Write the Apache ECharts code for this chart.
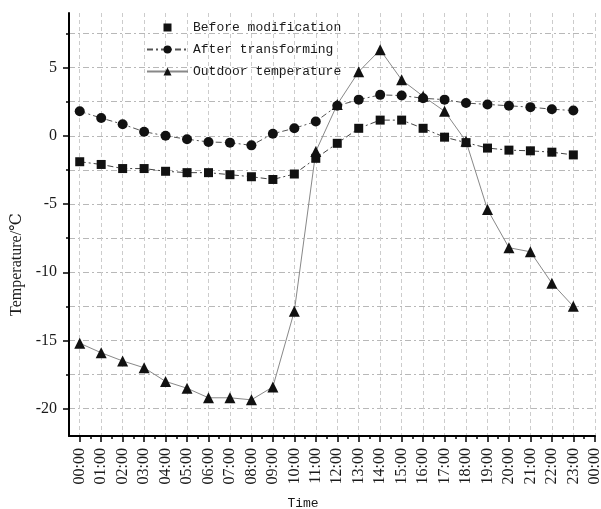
<!DOCTYPE html>
<html><head><meta charset="utf-8">
<script src="https://cdn.jsdelivr.net/npm/echarts@6/dist/echarts.min.js"></script>
<style>html,body{margin:0;padding:0;background:#fff}#c{width:601px;height:509px}</style>
</head><body><div id="c"></div>
<script>
const hours = [0,1,2,3,4,5,6,7,8,9,10,11,12,13,14,15,16,17,18,19,20,21,22,23];
const tickLabels = ["00:00","01:00","02:00","03:00","04:00","05:00","06:00","07:00","08:00","09:00","10:00","11:00","12:00","13:00","14:00","15:00","16:00","17:00","18:00","19:00","20:00","21:00","22:00","23:00","00:00"];
const beforeModification = [-1.9,-2.1,-2.4,-2.4,-2.6,-2.7,-2.7,-2.85,-3.0,-3.2,-2.8,-1.65,-0.55,0.55,1.15,1.15,0.55,-0.1,-0.5,-0.9,-1.05,-1.1,-1.2,-1.4];
const afterTransforming = [1.8,1.3,0.85,0.3,0.0,-0.25,-0.45,-0.5,-0.7,0.15,0.55,1.05,2.2,2.65,3.0,2.95,2.75,2.65,2.4,2.3,2.2,2.1,1.95,1.85];
const outdoorTemperature = [-15.2,-15.9,-16.5,-17.0,-18.0,-18.5,-19.2,-19.2,-19.35,-18.4,-12.85,-1.15,2.3,4.7,6.3,4.1,2.9,1.8,-0.4,-5.4,-8.2,-8.5,-10.8,-12.5];
const seriesNames = ["Before modification","After transforming","Outdoor temperature"];
const yMajorTicks = [-20,-15,-10,-5,0,5];
const yMinorTicks = [-17.5,-12.5,-7.5,-2.5,2.5,7.5];
const xMajorTicks = tickLabels.map((_, i) => i);
const xMinorTicks = hours.map(h => h + 0.5);

const pairs = arr => arr.map((v, i) => [hours[i], v]);
const serif = "'Liberation Serif', 'DejaVu Serif', serif";
const mono = "'Liberation Mono', 'DejaVu Sans Mono', monospace";
const dashDot = [6,3,2,3];

const chart = echarts.init(document.getElementById('c'), null, {renderer: 'canvas'});
chart.setOption({
  animation: false,
  backgroundColor: '#fff',
  grid: {left: 69, right: 6, top: 13, bottom: 73, containLabel: false, outerBoundsMode: 'none'},
  legend: {
    orient: 'vertical', left: 141, top: 16, itemWidth: 41, itemHeight: 10, itemGap: 9,
    textStyle: {fontFamily: mono, fontSize: 13, color: '#1a1a1a', lineHeight: 13},
    data: [
      {name: seriesNames[0], lineStyle: {opacity: 0}},
      {name: seriesNames[1]},
      {name: seriesNames[2]}
    ]
  },
  xAxis: [{
    type: 'value', min: -0.5, max: 24.01,
    name: 'Time', nameLocation: 'middle', nameGap: 61,
    nameTextStyle: {fontFamily: mono, fontSize: 13, color: '#1a1a1a', padding: [0, 58, 0, 0]},
    axisLine: {show: true, onZero: false, lineStyle: {color: '#000', width: 2}},
    axisTick: {show: true, length: 6, customValues: xMajorTicks, lineStyle: {color: '#000', width: 1.5}},
    axisLabel: {customValues: xMajorTicks, rotate: 90, margin: 12, fontFamily: serif, fontSize: 16, color: '#1a1a1a',
      showMaxLabel: true, formatter: v => tickLabels[Math.round(v)]},
    splitLine: {show: true, lineStyle: {color: '#cccccc', type: [4,3], width: 1}}
  }, {
    type: 'value', min: -0.5, max: 24.01, position: 'bottom', gridIndex: 0,
    axisLine: {show: false, onZero: false},
    axisTick: {show: true, length: 3, customValues: xMinorTicks, lineStyle: {color: '#000', width: 1.5}},
    axisLabel: {show: false},
    splitLine: {show: false}
  }],
  yAxis: [{
    type: 'value', min: -22, max: 9,
    name: 'Temperature/℃', nameLocation: 'middle', nameGap: 38, nameRotate: 90,
    nameTextStyle: {fontFamily: serif, fontSize: 16, color: '#1a1a1a', padding: [0, 80, 0, 0]},
    axisLine: {show: true, onZero: false, lineStyle: {color: '#000', width: 2}},
    axisTick: {show: true, length: 6, customValues: yMajorTicks, lineStyle: {color: '#000', width: 1.5}},
    axisLabel: {customValues: yMajorTicks, margin: 12, fontFamily: serif, fontSize: 16, color: '#1a1a1a'},
    splitLine: {show: true, lineStyle: {color: '#b8b8b8', type: dashDot, width: 1}}
  }, {
    type: 'value', min: -22, max: 9, position: 'left', gridIndex: 0,
    axisLine: {show: false, onZero: false},
    axisTick: {show: true, length: 3, customValues: yMinorTicks, lineStyle: {color: '#000', width: 1.5}},
    axisLabel: {show: false},
    splitLine: {show: true, lineStyle: {color: '#b8b8b8', type: dashDot, width: 1}}
  }],
  series: [{
    name: seriesNames[0], type: 'line', xAxisIndex: 0, yAxisIndex: 0,
    data: pairs(beforeModification),
    symbol: 'rect', symbolSize: 9,
    itemStyle: {color: '#111'},
    lineStyle: {color: '#444', width: 1, type: dashDot}
  }, {
    name: seriesNames[1], type: 'line', xAxisIndex: 0, yAxisIndex: 0,
    data: pairs(afterTransforming),
    symbol: 'circle', symbolSize: 10,
    itemStyle: {color: '#111'},
    lineStyle: {color: '#555', width: 1, type: dashDot}
  }, {
    name: seriesNames[2], type: 'line', xAxisIndex: 0, yAxisIndex: 0,
    data: pairs(outdoorTemperature),
    symbol: 'triangle', symbolSize: 11,
    itemStyle: {color: '#111'},
    lineStyle: {color: '#888', width: 1, type: 'solid'}
  }]
});
</script>
</body></html>
